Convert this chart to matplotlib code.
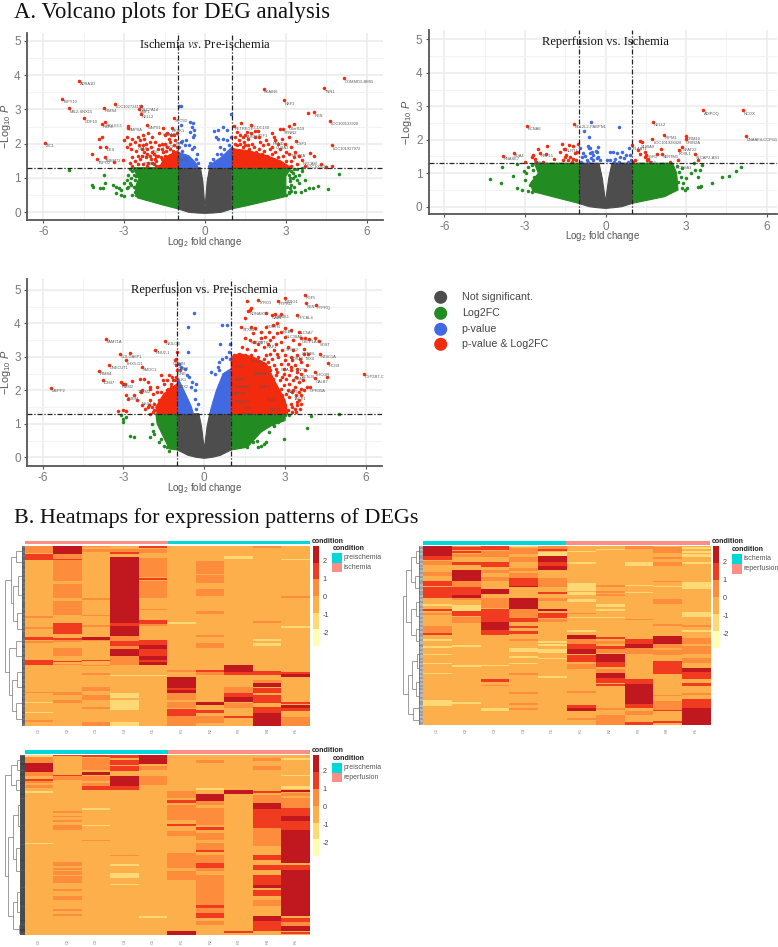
import numpy as np
import matplotlib
matplotlib.use("Agg")
import matplotlib.pyplot as plt
from matplotlib.colors import ListedColormap, BoundaryNorm

W, H = 778, 947
SANS = "Liberation Sans"
SERIF = "Liberation Serif"
plt.rcParams["font.family"] = SANS
plt.rcParams["mathtext.fontset"] = "custom"
plt.rcParams["mathtext.rm"] = "Liberation Sans"
plt.rcParams["mathtext.it"] = "Liberation Sans:italic"
plt.rcParams["mathtext.default"] = "regular"
plt.rcParams["axes.unicode_minus"] = False

GREY, GREEN, BLUE, RED = "#4d4d4d", "#228B22", "#4169E1", "#F22A0E"
TEAL, SALMON = "#00D7DB", "#FB8F88"

# ---------------- volcano 1: Ischemia vs Pre-ischemia ----------------
v1_grey_x = [-1, -.6, -.3, 0, .3, .6, 1, 1, .17, .08, .03, 0, -.03, -.08, -.17, -1]
v1_grey_y = [.1, .0, -.02, -.03, -.02, .0, .1, 1.3, 1.3, .9, .4, .15, .4, .9, 1.3, 1.3]
v1_green_l_x = [-1, -1.6, -2.5, -2.6, -2.45, -2.7, -1]
v1_green_l_y = [.1, .22, .42, .7, 1.0, 1.3, 1.3]
v1_green_r_x = [1, 1.6, 3.0, 3.0, 3.0, 3.2, 1]
v1_green_r_y = [.1, .2, .46, .8, 1.05, 1.3, 1.3]
v1_green_x = [-5.05,-3.76,-4.2,-4.15,-3.9,-3.8,-3.7,-3.4,-3.3,-3.2,-3.1,-3.3,-3.1,-3.0,-2.9,-2.85,-2.8,-3.0,-2.9,-2.7,-2.75,-2.7,
              -2.55,-2.6,-2.65,-2.5,-2.6,-2.55,-2.65,-2.5,-2.75,-2.8,-2.85,-2.45,
              4.97,4.55,4.2,4.0,3.85,3.7,3.55,3.6,3.5,3.4,3.3,3.2,3.5,3.7,3.4,3.25,3.1,3.15,3.35,3.6,
              3.0,3.1,3.15,3.05,3.2,3.15,3.25,3.2,3.3,3.1,3.35]
v1_green_y = [1.22,1.09,.8,.75,.72,.7,.85,.8,.75,.7,.65,.55,.5,.48,.95,1.1,1.25,.85,.7,.5,.8,1.2,
              .5,.6,.75,.85,.95,1.05,1.1,1.2,1.0,.85,.75,.55,
              1.12,.68,.78,.72,.72,.65,.6,1.2,1.1,.95,.75,.62,.85,.95,1.25,1.15,.55,.9,.6,1.28,
              .5,.6,.7,.75,.8,1.0,1.0,1.2,1.25,1.1,1.05]
v1_blue_l_x = [-1, -.25, -.35, -.6, -1]
v1_blue_l_y = [1.3, 1.3, 1.45, 1.65, 1.75]
v1_blue_r_x = [.15, 1, 1, .6, .3]
v1_blue_r_y = [1.3, 1.3, 1.9, 1.6, 1.45]
v1_blue_x = [-.95,-.88,-.9,-.55,-.45,-.5,-.42,-.55,-.4,-.45,-.9,-.85,-.7,-.75,-.6,-.5,-.4,-.95,-.85,-.3,-.35,-.25,
             .97,.65,.5,.35,.8,.4,.5,.65,.8,.95,.55,.7,.9,.85,.45,.3,.2,.15,.95,.6]
v1_blue_y = [3.1,3.09,2.55,2.62,2.6,2.5,2.4,2.35,2.25,2.2,2.05,2.07,2.1,1.95,1.95,1.85,1.9,1.9,1.8,1.7,1.55,1.45,
             2.87,2.5,2.4,2.38,2.4,2.2,2.15,2.15,2.1,2.2,1.9,1.85,1.95,1.75,1.7,1.55,1.45,1.35,1.6,1.7]
v1_red_l_x = [-1, -1.7, -1.5, -1]
v1_red_l_y = [1.3, 1.3, 1.6, 1.8]
v1_red_core_x = [1, 3.2, 2.8, 2.3, 1.6, 1]
v1_red_core_y = [1.3, 1.3, 1.5, 1.65, 1.8, 1.85]
v1_red_x = [-5.93,-4.66,-5.29,-5.05,-4.5,-3.76,-3.34,-2.37,-2.44,-2.36,-3.71,-3.83,-1.15,-2.86,-2.84,-2.14,-1.57,-1.24,-3.82,-3.92,-3.67,-3.9,-4.18,-4.0,-3.72,-3.36,-3.04,
            -3.0,-2.9,-2.8,-2.7,-2.6,-2.5,-2.45,-2.4,-2.35,-2.3,-2.25,-2.2,-2.15,-2.1,-2.05,-2.0,-1.95,-1.9,-1.85,-1.8,-1.75,-1.7,-1.65,-1.6,-1.55,-1.5,-1.45,-1.4,-1.35,-1.3,-1.25,-1.2,-1.15,-1.1,-1.05,
            -2.8,-2.6,-2.4,-2.3,-2.2,-2.1,-1.9,-1.7,-1.55,-1.4,-1.2,-1.1,-1.6,-1.5,-1.35,-1.2,-1.1,-1.8,-2.0,-1.05,-1.15,-1.3,-1.45,-1.6,
            -2.9,-2.75,-2.55,-2.5,-2.7,-2.35,-2.15,-2.3,-1.95,-1.85,-1.75,-2.05,-2.25,-1.7,-1.5,-1.35,-1.25,-1.4,-1.15,-1.05,-2.5,-2.7,-2.15,-1.95,-1.8,
            5.16,4.42,2.18,2.92,4.06,3.83,4.64,4.71,3.38,
            1.08,1.35,1.7,1.4,1.5,1.7,1.85,1.95,1.1,1.2,1.25,1.3,1.45,1.6,1.75,1.85,2.05,2.15,2.25,2.5,2.55,2.6,2.8,2.9,3.1,3.3,2.7,2.85,2.95,3.1,3.2,3.35,3.5,3.6,3.9,4.05,4.3,4.5,4.7,3.3,3.1,3.0,2.8,2.6,2.4,2.2,2.0,1.8,1.6,1.4,1.2,1.1,3.4,3.2,2.9,3.7,
            1.05,1.25,1.5,1.65,1.9,2.1,2.3,2.5,2.7,2.9,3.0,2.8,2.6,3.2,2.35,2.5,2.0,1.55,1.3]
v1_red_y = [2.03,3.84,3.31,3.03,2.74,3.05,3.17,3.09,3.01,2.88,2.62,2.58,2.75,2.51,2.47,2.55,2.45,2.47,2.2,2.14,1.91,1.89,1.71,1.54,1.6,1.46,1.52,
            2.1,2.2,2.0,2.15,2.05,2.2,1.95,2.1,1.85,2.25,1.75,2.0,1.85,2.3,1.65,1.9,2.2,1.7,2.05,1.5,1.85,2.3,1.6,2.0,1.75,2.25,1.5,1.9,1.65,2.05,1.45,1.8,1.55,2.1,1.7,
            1.45,1.5,1.55,1.4,1.6,1.45,1.4,1.35,1.4,1.35,1.35,1.4,1.55,1.65,1.5,1.6,1.5,1.65,1.55,1.9,1.95,1.85,1.8,1.85,
            1.9,1.85,1.8,1.65,1.6,1.65,1.7,1.95,1.75,1.55,1.65,2.05,2.15,1.95,2.0,2.15,2.25,2.3,2.25,2.3,1.4,1.35,1.35,1.45,1.35,
            3.91,3.62,3.6,3.26,2.92,2.89,2.67,1.95,2.09,
            2.53,2.6,2.55,2.2,2.25,2.3,2.37,2.37,2.2,2.35,2.1,2.0,2.05,2.15,2.0,2.2,2.05,1.95,2.1,2.3,2.2,2.1,2.42,2.43,2.52,2.58,2.0,2.15,2.0,2.2,1.9,1.75,1.65,1.52,1.72,1.65,1.42,1.32,1.35,1.6,1.7,1.5,1.85,1.75,1.85,1.8,1.85,1.9,1.95,1.9,1.95,2.0,1.4,1.35,1.35,1.35,
            1.85,1.8,1.95,1.85,1.75,1.7,1.65,1.7,1.6,1.65,1.75,1.45,1.4,1.5,2.0,1.9,2.2,2.35,2.25]
v1_lab_x = [-5.93,-4.66,-5.29,-5.05,-4.5,-3.76,-3.34,-2.37,-2.44,-2.36,-3.71,-3.83,-1.15,-2.86,-2.14,-1.57,-1.24,-3.67,-3.98,-3.72,5.16,4.42,2.18,2.92,4.06,4.64,4.71,3.38,1.08,1.72,1.45,1.95,2.5,3.1,2.9,2.6,3.2,3.6,3.75,-2.5,-1.1,-2.4,-2.3,-1.6,-2.0,-1.1]
v1_lab_y = [2.03,3.84,3.31,3.03,2.74,3.05,3.17,3.09,3.01,2.88,2.62,2.58,2.75,2.51,2.55,2.35,2.47,1.91,1.54,1.6,3.91,3.62,3.6,3.26,2.92,2.67,1.95,2.09,2.53,2.55,2.3,2.33,2.1,2.52,2.42,1.98,1.75,1.52,1.42,1.95,2.1,1.7,1.5,2.0,1.85,1.62]
v1_lab_t = ["ZIC1","ADRA1D","TSPY10","MIL2-SNX15","GDF10","RIMS4","LOC102724159","SLC7A14","MIIP1","NELL2","SIGLEC5","RBP4","SPC5D","BMP8A","WNT01","GRAMP1","BRSK1","DES","TSPO2","TMEM72",
            "COMMD3-BMI1","TNN1","SKAIN6","NXF3","REN","LOC100133920","LOC101927972","CSF3","RETREG1","CCDC150","CARD10","TGF1","PRND","C8orf119","SYNN2","GLRA3","MYO7A","NRCAM","LOC100526","CFAP","KIF1","GPR","FOXJ1","PITX3","TSC","VAMP1"]

# ---------------- volcano 2: Reperfusion vs Ischemia ----------------
v2_grey_x = [-1, -.6, -.3, 0, .3, .6, 1, 1, .24, .12, .05, .01, -.05, -.12, -.24, -1]
v2_grey_y = [.1, .0, -.03, -.05, -.03, .0, .1, 1.3, 1.3, .85, .45, .12, .45, .85, 1.3, 1.3]
v2_green_l_x = [-1, -2.7, -2.8, -2.5, -2.65, -1]
v2_green_l_y = [.1, .45, .7, 1.0, 1.3, 1.3]
v2_green_r_x = [1, 2.2, 2.7, 2.65, 2.5, 1]
v2_green_r_y = [.1, .3, .5, 1.0, 1.3, 1.3]
v2_green_x = [-4.3,-3.9,-3.3,-3.1,-3.85,-3.45,-3.3,-3.05,-2.95,-3.0,-2.9,-2.75,-2.8,-2.7,-2.65,-2.9,-2.75,
              5.05,4.85,4.6,4.35,3.95,3.55,3.5,3.45,3.45,3.5,3.35,3.2,3.0,3.05,2.95,3.6,3.3,2.9,2.85,2.8,2.75,2.7,2.85,2.65]
v2_green_y = [.82,.72,.55,.5,1.18,.93,1.28,1.08,1.0,.8,.46,.45,.65,1.1,.9,1.2,1.25,
              1.2,1.08,.92,.9,.72,.62,.6,.58,.88,1.1,1.1,1.0,.85,.55,.5,1.25,1.3,.7,1.15,.9,1.05,.75,.55,1.22]
v2_blue_x = [-.53,.5,-.81,-.62,-.96,-.65,-.58,-.52,-.27,-.31,-.27,-.58,-.89,-.7,-.46,-.21,.16,.29,.41,.6,.86,.35,.53,.9,.16,.04,-.9,-.75,-.6,-.45,-.3,.3,.5,.7,.85,-.85,-.65,-.55,-.35,.95,.75]
v2_blue_y = [2.54,2.39,2.27,2.07,1.74,1.81,1.74,1.64,1.79,1.64,1.49,1.59,1.49,1.39,1.39,1.39,1.64,1.64,1.59,1.64,1.74,1.44,1.49,1.54,1.41,1.39,1.35,1.5,1.75,1.55,1.45,1.35,1.35,1.45,1.35,1.6,1.35,1.45,1.65,1.4,1.55]
v2_red_x = [-2.93,-1.17,1.77,3.64,5.12,5.22,2.16,2.99,2.98,1.72,1.28,1.35,2.05,2.84,2.72,1.0,3.35,3.45,2.69,2.4,1.22,1.28,1.48,1.52,1.9,2.11,1.46,1.6,1.53,1.65,1.09,1.03,
            -3.82,-3.42,-3.0,-2.75,-2.69,-2.5,-2.44,-2.63,-2.22,-2.16,-1.91,-1.63,-1.55,-1.49,-1.36,-1.2,-1.04,-1.46,-1.33,-1.51,-1.39,-1.2,-1.08,-1.14,-1.26,-1.05,-2.57,-2.32,-1.7,-1.57]
v2_red_y = [2.42,2.48,2.54,2.88,2.88,2.1,2.15,2.11,2.01,2.02,1.97,1.94,1.73,1.78,1.68,1.83,1.56,1.41,1.41,1.33,1.69,1.57,1.64,1.54,1.57,1.57,1.49,1.44,1.39,1.34,1.39,1.34,
            1.51,1.61,1.34,1.49,1.54,1.71,1.61,1.44,1.56,1.8,1.43,1.88,1.73,1.73,1.84,1.81,1.86,1.54,1.49,1.47,1.41,1.44,1.39,1.6,1.34,1.64,1.34,1.34,1.64,1.39]
v2_lab_x = [-2.93,-1.17,1.77,3.64,5.12,5.22,2.16,2.99,2.98,1.77,1.28,1.0,2.84,2.72,3.35,-3.82,-3.42,-2.69,-2.44,-1.5,2.1,2.6,1.5,1.5]
v2_lab_y = [2.42,2.48,2.54,2.88,2.88,2.1,2.15,2.11,2.0,2.0,1.88,1.83,1.78,1.68,1.56,1.51,1.61,1.4,1.61,1.75,1.58,1.25,1.4,1.58]
v2_lab_t = ["KCNA6","BCL2L2-PABPN1","NELL2","ADIPOQ","NCOX","DNAAF4-CCPG1","TRPM1","GRM10","GRIN2A","LOC101928428","S100A9","PLAAT1","NFAT22","FOXL1","SLCAP2-AS1","RNASE7","SOA4","MAFB","RRP15","NLRT1","SERTM1","PCDHA1","CST1","RGR1"]

# ---------------- volcano 3: Reperfusion vs Pre-ischemia ----------------
v3_grey_x = [-1, -.6, -.3, 0, .3, .6, 1, 1, .2, .1, .04, 0, -.04, -.1, -.2, -1]
v3_grey_y = [.22, .06, 0, -.03, 0, .06, .22, 1.3, 1.3, .9, .5, .25, .5, .9, 1.3, 1.3]
v3_green_l_x = [-1, -1.3, -1.6, -1.75, -1.8, -1]
v3_green_l_y = [.22, .25, .75, 1.0, 1.3, 1.3]
v3_green_r_x = [1, 1.6, 2.1, 2.5, 3.0, 3.0, 1]
v3_green_r_y = [.22, .3, .75, .95, 1.1, 1.3, 1.3]
v3_green_x = [-3.0,-3.0,-2.9,-3.1,-2.77,-2.6,-2.0,-1.9,-1.85,-1.7,-1.6,-1.5,-1.4,-1.3,-1.95,
              5.0,3.97,3.83,2.95,2.3,2.2,2.1,2.0,1.8,2.4,2.6,2.75,2.9,3.0,2.5,1.6,3.15,1.95]
v3_green_y = [1.05,1.15,1.2,1.27,.65,.6,.6,.8,.7,.45,.55,.35,.3,.2,1.0,
              1.28,1.22,.87,.55,.45,.4,.35,.3,.45,.75,.95,1.05,1.15,1.25,1.0,.3,1.25,.5]
v3_blue_l_x = [-1, -.4, -.5, -.7, -1]
v3_blue_l_y = [1.3, 1.3, 1.55, 1.9, 2.4]
v3_blue_r_x = [.2, 1, 1, .7, .45, .3]
v3_blue_r_y = [1.3, 1.3, 2.65, 2.5, 2.0, 1.6]
v3_blue_x = [-.4,-.6,.65,.85,.6,.95,-.6,.9,.8,.65,.55,.95,.5,.25,.4,.55,-.85,-.7,-.95,-.9,-.65,-.55,-.45,-.3,-.35,-.5,-.25,-.3,-.35]
v3_blue_y = [4.3,3.9,3.95,3.95,3.4,3.4,3.15,3.15,3.0,2.95,2.85,2.95,2.7,2.55,2.5,2.6,2.7,2.65,2.8,2.6,2.45,2.4,2.25,2.2,2.0,2.1,1.6,1.45,1.75]
v3_red_l_x = [-1, -1.75, -1.8, -1.5, -1]
v3_red_l_y = [1.3, 1.3, 1.5, 1.9, 2.2]
v3_red_r_x = [1, 3.1, 3.0, 2.6, 2.3, 1.8, 1.3, 1]
v3_red_r_y = [1.3, 1.3, 1.7, 2.3, 2.8, 3.0, 3.1, 3.0]
v3_red_x = [-5.68,-3.64,-1.45,-1.82,-3.13,-2.76,-2.91,-3.55,-3.91,-3.77,-2.31,-3.1,-3.0,-2.95,-2.7,-2.4,-2.25,-2.1,-2.0,-1.6,-1.55,-1.3,-1.1,-1.05,-1.0,-1.05,-1.2,-1.0,-1.1,-2.9,-2.85,-2.5,-2.35,-2.6,-2.3,-2.0,-1.9,-1.75,-3.2,-3.0,-2.9,-2.2,-2.05,-1.95,-1.85,-1.65,-1.35,-1.25,-1.1,-1.05,-1.4,-2.0,
            -2.0,-1.9,-2.1,-2.3,-1.85,-1.7,-1.6,-1.4,-1.25,-1.15,-1.05,-1.5,-1.75,
            5.92,3.73,3.76,4.16,2.98,2.75,2.0,1.57,1.62,1.68,1.75,2.3,2.5,2.62,2.86,3.44,1.52,
            1.37,1.75,1.9,2.3,2.55,2.7,2.85,3.0,3.2,3.5,3.6,3.75,3.9,4.1,4.25,4.31,4.59,4.1,4.55,4.12,
            1.5,1.7,1.85,2.1,2.25,2.45,2.65,2.85,3.1,3.3,3.5,3.7,1.4,1.6,1.9,2.2,2.6,2.9,
            1.1,1.3,1.55,1.75,2.0,2.3,2.5,2.75,3.0,3.2,3.45,3.7,3.85,1.15,1.45,2.1,2.35,2.6,2.85,3.1,3.35,3.6,3.8,
            2.2,2.45,2.7,2.95,3.2,3.45,3.6,3.75,2.3,2.55,2.8,3.05,3.3,3.5,3.65,
            2.6,2.85,3.1,3.35,3.6,3.8,3.91,2.9,3.15,3.4,3.6,3.45,3.2,3.0,3.35,3.1,3.25,3.5,
            2.75,2.95,3.15,3.3,3.05,3.25,3.5,3.4,3.15,2.9,2.65,2.4,2.65,2.95,3.2,3.45,1.5,1.25,1.95,2.2,2.45,2.7,3.0,3.25,3.55,2.35,2.55,2.0,1.8,2.1,2.4,2.7,3.0,3.3,3.45,3.6,3.25,3.0,3.4,3.55,3.7,2.85]
v3_red_y = [2.07,3.53,3.47,3.22,3.09,3.11,2.9,2.77,2.59,2.31,2.71,2.26,2.2,2.18,2.28,2.35,2.35,2.25,2.1,2.45,2.3,2.45,2.9,2.75,2.6,2.95,2.4,3.15,2.3,1.85,1.75,1.7,1.95,1.85,2.0,2.05,1.9,2.1,1.38,1.4,1.38,1.45,1.55,1.5,1.42,1.55,2.05,2.2,2.05,1.85,2.3,1.3,
            1.7,1.35,1.5,1.55,1.6,1.7,1.95,2.0,2.1,2.3,2.4,2.2,1.95,
            2.5,4.85,4.6,4.55,4.75,4.68,4.7,4.68,4.38,4.4,4.45,4.32,4.25,4.27,4.28,4.25,4.15,
            3.9,3.9,3.85,3.9,3.95,4.0,3.75,3.85,3.8,3.73,3.55,3.55,3.52,3.55,3.46,3.1,2.83,2.56,2.39,2.36,
            3.55,3.5,3.45,3.55,3.6,3.5,3.4,3.45,3.3,3.2,3.4,3.25,3.3,3.25,3.2,3.3,3.2,3.2,
            3.05,3.1,3.0,3.05,3.0,3.05,2.95,3.0,3.05,3.0,3.05,3.08,3.1,2.85,2.8,2.8,2.85,2.75,2.8,2.8,2.75,2.85,2.75,
            2.5,2.6,2.55,2.5,2.6,2.55,2.5,2.6,2.3,2.35,2.3,2.35,2.3,2.25,2.3,
            2.1,2.05,2.0,2.1,2.05,2.1,2.09,1.85,1.8,1.85,1.85,1.65,1.6,1.55,1.45,1.4,1.35,1.7,
            1.95,2.15,2.2,2.0,1.9,1.95,1.95,2.4,2.45,2.4,2.45,2.7,2.65,2.65,2.7,2.65,3.05,2.95,2.9,2.95,3.1,3.1,2.9,2.9,2.95,3.4,3.6,3.4,3.7,3.75,3.75,3.7,3.6,3.5,1.55,1.6,1.5,1.4,1.35,1.45,2.0,1.7]
v3_lab_x = [-5.68,-3.64,-1.45,-1.82,-3.13,-2.91,-3.55,-2.31,-3.91,-3.77,-3.1,-2.9,-2.5,-2.35,-1.2,-1.0,-1.0,-1.05,-1.0,5.92,3.73,3.76,4.16,2.98,2.75,2.0,1.65,2.5,2.3,2.62,3.44,1.4,2.9,3.0,3.5,3.6,4.25,4.31,4.59,4.1,4.12,3.91,3.6,3.45,3.6,2.0,1.7,2.3,3.0,3.2,3.7,1.1,1.1,1.1,1.1,1.1,1.4,1.4,1.7,1.8,2.0,2.3,2.4,2.8,3.3,3.1,3.3]
v3_lab_y = [2.07,3.53,3.47,3.22,3.09,2.9,2.77,2.71,2.59,2.31,2.2,1.85,2.05,1.7,2.9,2.75,2.6,2.4,2.2,2.5,4.85,4.6,4.55,4.75,4.68,4.7,4.38,4.25,4.0,4.3,4.25,3.9,3.85,3.7,3.8,3.55,3.46,3.1,2.83,2.56,2.36,2.09,3.2,2.7,2.5,3.5,3.5,3.4,3.3,3.05,3.05,2.8,2.4,2.2,2.0,1.75,1.55,1.4,2.95,2.6,2.2,1.8,1.5,2.7,2.45,2.05,1.85]
v3_lab_t = ["MEPP2","FAM71A","NKILOS","RNU2-1","GOLGA6P1","LHX5-D1","DNECUT1","SMOC1","RIMS4","TCIM7","RMM2","TMEM","TAKM2","NKX4-2","COBIN","GABR","GNE","DLK1","BMX2",
            "CYP2B7-C","FGF5","REN","PTPRQ","NTNG1","PTPRD","TYRO3","NDNAH5","GAD1","POSTN","CAMK1","HPCAL4","STXN1B","HEBB","SLC38A6","SLC5A7","OSTF1A7","SOST","NTSC1A","HCG9","LHCGR","CALB7","GPR35A","CPNE6","NPY","KCNJ4","SYT6","KCTD8","NAF1","SYNE2","ADRA2","TBX4","PLK3","MMP7","GRAMD","ATP2B","TMEM51","TYR","PDK4","EPHA3","CNKSR","NRIP3","SLC4","RELN","GDA","ICAM5","ADH6","TACR1"]

# ---------------- heatmaps ----------------
D, R, O, P = 2.5, 1.5, .5, -1.5   # heat levels
BASE = -.5
LEVELS = [-2.78, -1.85, -.92, .02, .95, 1.89, 2.84]
HEAT_COLORS = ["#FFFFB2", "#FED976", "#FDAF4B", "#FD8D3C", "#F03B20", "#C1181F"]
cbar_ticks = [2, 1, 0, -1, -2]

h1_span = (137, 678)
h1_bands = [
 [(137,160,O),(165,172,R),(172,182,R),(350,354,O),(383,387,O),(412,420,R),(425,430,O),(480,495,R),(575,578,O),(605,609,P),(635,640,P),(660,665,O)],
 [(137,165,D),(165,180,O),(178,182,R),(182,245,O),(255,295,O),(305,345,O),(370,382,R),(382,402,R),(415,420,R),(420,427,O),(445,470,O),(483,487,R),(492,497,O),(575,585,O),(600,610,O)],
 [(137,143,O),(150,158,O),(295,302,O),(345,350,O),(375,383,O),(411,420,D),(420,425,O),(480,485,R),(495,500,O),(520,525,O),(560,572,O),(585,600,O),(620,628,O),(665,678,O)],
 [(150,158,O),(157,165,R),(172,178,D),(178,370,D),(370,380,R),(380,410,D),(410,425,O),(425,440,R),(440,448,O),(448,468,D),(468,482,O),(482,497,O),(525,530,P),(580,595,P),(600,630,P),(665,678,P)],
 [(140,146,R),(150,160,O),(175,232,O),(236,243,R),(245,295,O),(327,332,O),(362,373,R),(373,380,O),(420,437,R),(437,447,D),(447,470,R),(470,482,D),(482,487,R),(487,497,D),(525,530,P)],
 [(367,372,P),(510,516,O),(533,565,D),(565,570,R),(570,578,D),(578,600,O),(607,625,O),(627,635,R),(635,648,R),(648,665,O),(665,678,O)],
 [(185,205,O),(205,225,O),(228,250,O),(270,290,O),(335,342,O),(405,412,O),(430,445,O),(510,516,R),(516,525,O),(605,615,D),(630,640,R),(648,670,O)],
 [(170,180,P),(497,518,D),(518,525,R),(560,580,O),(580,590,R),(590,605,D),(610,625,O),(648,655,R)],
 [(140,145,O),(365,370,O),(418,424,P),(430,440,P),(515,527,R),(540,548,O),(550,560,D),(565,580,R),(585,610,R),(620,640,R),(640,678,D)],
 [(178,182,P),(290,294,O),(378,384,P),(518,524,R),(524,532,D),(605,612,R),(615,625,D),(625,632,R),(650,678,O)],
]
h2_span = (48, 586)
h2_bands = [
 [(48,62,D),(62,80,D),(80,92,R),(95,108,O),(130,140,O),(155,170,R),(175,190,R),(190,205,R),(225,230,P),(238,245,R),(250,258,O),(290,300,O),(300,310,O),(311,318,R),(330,334,P),(350,355,P),(375,378,P),(400,403,P),(432,435,P),(510,518,P),(518,530,P)],
 [(48,55,O),(55,62,R),(65,72,R),(75,85,O),(100,108,R),(122,155,D),(155,175,O),(175,198,R),(198,205,D),(205,212,O),(228,245,P),(245,260,R),(262,282,O),(347,352,P),(408,412,P),(518,523,P)],
 [(48,62,R),(65,85,O),(100,115,R),(122,132,O),(145,155,O),(180,195,D),(205,235,O),(240,278,R),(278,303,D),(303,318,R),(408,411,P),(450,456,R),(465,470,O),(536,543,P)],
 [(48,55,P),(58,75,O),(85,100,O),(118,125,O),(132,147,O),(148,170,R),(170,175,D),(207,238,D),(240,265,O),(265,278,R),(290,295,R),(305,315,R),(330,335,O),(355,368,P),(380,385,P),(400,405,P),(432,436,O),(486,492,O),(520,525,O),(534,542,O)],
 [(48,60,O),(60,66,R),(70,80,P),(82,100,D),(100,112,R),(112,122,D),(148,175,O),(188,195,R),(205,215,O),(240,246,D),(250,267,R),(270,278,O),(335,340,P),(345,350,P),(360,370,P),(385,390,P),(440,446,P)],
 [(65,70,P),(100,104,P),(163,172,P),(172,185,P),(188,198,P),(208,218,P),(250,255,O),(262,267,P),(303,308,P),(318,328,D),(328,345,O),(345,358,R),(358,375,D),(378,398,R),(405,418,O),(485,490,O),(527,535,R),(535,545,D),(565,570,O)],
 [(45,50,P),(60,64,P),(168,175,O),(185,190,O),(195,200,O),(225,232,P),(240,245,P),(262,267,P),(322,330,R),(335,345,O),(350,358,R),(358,372,O),(375,397,D),(397,413,R),(418,430,O),(430,445,D),(445,460,R),(462,470,R),(534,540,O),(555,572,O),(572,586,O)],
 [(48,60,O),(100,112,P),(168,172,P),(188,192,P),(268,273,O),(330,343,R),(343,357,D),(357,375,O),(450,462,R),(462,522,D),(522,534,R),(545,555,O),(578,586,R)],
 [(55,72,O),(85,90,O),(100,110,O),(155,160,O),(170,175,P),(208,225,O),(285,290,O),(320,345,D),(345,355,O),(362,378,O),(395,435,R),(495,500,O),(515,540,O),(540,545,R),(575,580,R)],
 [(55,60,P),(65,72,P),(75,85,P),(100,105,P),(158,180,P),(248,262,P),(288,293,O),(303,308,P),(325,345,O),(350,375,O),(385,400,O),(415,428,D),(428,450,R),(460,468,R),(490,495,O),(507,515,R),(515,535,R),(535,548,D),(548,586,D)],
]
h3_span = (46, 586)
h3_bands = [
 [(46,52,P),(52,70,O),(70,98,D),(98,110,O),(118,125,R),(125,130,O),(137,145,O),(155,160,P),(310,314,P)],
 [(46,50,R),(105,110,R),(110,120,O),(215,220,O),(228,232,O),(240,248,O),(255,272,O),(367,378,O),(385,390,O),(395,405,O),(410,430,O),(447,455,O),(470,480,O),(508,515,O),(522,528,O)],
 [(46,52,R),(55,90,O),(97,105,D),(108,125,O),(130,138,O),(138,152,R),(205,212,P),(255,260,P),(300,304,O)],
 [(46,55,R),(60,75,R),(80,95,R),(108,138,D),(138,150,R),(345,349,O),(372,378,P),(400,415,P),(432,436,P)],
 [(46,72,D),(80,90,O),(108,135,O),(530,535,P)],
 [(155,175,O),(180,190,R),(195,225,O),(225,240,O),(252,258,R),(275,290,O),(340,385,O),(395,420,O),(575,586,D)],
 [(62,70,O),(145,150,P),(163,185,D),(185,195,O),(205,255,O),(262,272,R),(280,300,O),(310,330,O),(330,338,R),(345,370,O),(370,385,R),(385,395,O),(405,495,O),(495,505,R),(505,520,O),(520,535,R),(545,555,O)],
 [(150,162,D),(575,580,R)],
 [(55,65,O),(80,90,O),(155,160,R),(165,190,O),(190,207,D),(207,265,R),(265,320,O),(345,360,R),(375,392,R),(405,435,R),(435,445,D),(450,470,R),(480,500,O),(530,545,D),(545,575,R)],
 [(55,62,P),(105,110,P),(140,148,P),(150,158,D),(160,170,O),(175,205,O),(205,228,R),(228,245,D),(245,272,R),(272,345,D),(345,370,D),(375,390,R),(390,530,D),(535,548,R),(548,558,O),(558,575,D),(578,583,R)],
]
h1_tree = [.05,
           [.32, [.58, (0, .06), (.06, .12)], [.42, [.68, (.12, .22), (.22, .33)], [.6, (.33, .42), (.42, .5)]]],
           [.22, [.55, (.5, .56), (.56, .66)], [.4, [.62, (.66, .74), (.74, .83)], [.55, (.83, .92), (.92, 1)]]]]
h2_tree = [.05,
           [.2, [.45, [.7, (0, .06), (.06, .13)], [.62, (.13, .2), (.2, .27)]], [.42, [.68, (.27, .35), (.35, .43)], [.66, (.43, .5), (.5, .56)]]],
           [.3, [.5, [.72, (.56, .64), (.64, .72)], [.66, (.72, .8), (.8, .87)]], [.55, (.87, .94), (.94, 1)]]]
h3_tree = [.05,
           [.35, [.62, (0, .05), (.05, .11)], [.55, (.11, .16), (.16, .22)]],
           [.2, [.42, [.66, (.22, .33), (.33, .45)], [.58, (.45, .58), (.58, .7)]], [.45, [.64, (.7, .82), (.82, .92)], [.7, (.92, .97), (.97, 1)]]]]
heat_cols = ["C1", "C2", "C3", "C4", "C5", "R1", "R2", "R3", "R4", "R5"]


def px_axes(fig, left, top, right, bottom, **kw):
    return fig.add_axes([left / W, 1 - bottom / H, (right - left) / W, (bottom - top) / H], **kw)


def volcano(fig, box, xmap, ymap, title, title_y, label_off, grey, greens, blues, reds, gp, bp, rp, labs):
    left, top, right, bottom = box
    x0, xs = xmap
    y0, ys = ymap
    ax = px_axes(fig, left, top, right, bottom)
    ax.set_xlim((left - x0) / xs, (right - x0) / xs)
    ax.set_ylim((y0 - bottom) / ys, (y0 - top) / ys)
    ax.set_xticks([-6, -3, 0, 3, 6])
    ax.set_xticks([-4.5, -1.5, 1.5, 4.5], minor=True)
    ax.set_yticks([0, 1, 2, 3, 4, 5])
    ax.set_yticks([.5, 1.5, 2.5, 3.5, 4.5], minor=True)
    ax.grid(which="major", color="#EBEBEB", lw=1.1, zorder=0)
    ax.grid(which="minor", color="#F3F3F3", lw=.7, zorder=0)
    ax.set_axisbelow(True)
    for s in ("top", "right"):
        ax.spines[s].set_visible(False)
    for s in ("left", "bottom"):
        ax.spines[s].set_color("#555555")
        ax.spines[s].set_linewidth(1.3)
    ax.tick_params(which="major", labelsize=8.5, labelcolor="#7A7A7A", color="#555555", length=2.5, width=.8, pad=2)
    ax.tick_params(which="minor", length=0)
    ax.set_xlabel(r"Log$_2$ fold change", fontsize=7.0, color="#555555", va="center")
    ax.set_ylabel(r"$-$Log$_{10}$ $\mathit{P}$", fontsize=7.8, color="#555555", va="center")
    ax.xaxis.set_label_coords(.5, -22 / (bottom - top))
    ax.yaxis.set_label_coords(-label_off / (right - left), .5)

    ax.fill(*grey, color=GREY, lw=.8, zorder=2)
    for g in greens:
        ax.fill(*g, color=GREEN, lw=.8, zorder=2)
    for b in blues:
        ax.fill(*b, color=BLUE, lw=.8, zorder=2)
    for r in reds:
        ax.fill(*r, color=RED, lw=.8, zorder=2)
    ax.scatter(*gp, s=6.5, color=GREEN, lw=0, zorder=3)
    ax.scatter(*bp, s=6.5, color=BLUE, lw=0, zorder=3)
    ax.scatter(*rp, s=6.5, color=RED, lw=0, zorder=3)
    for x, y, t in zip(*labs):
        ax.text(x + .02, y - .04, t, fontsize=2.9, color="#5a5a5a", ha="left", va="top", zorder=5)
    for xv in (-1, 1):
        ax.axvline(xv, color="#222222", lw=.9, ls=(0, (4, 1.5, 1, 1.5)), zorder=4)
    ax.axhline(1.3, color="#222222", lw=.9, ls=(0, (4, 1.5, 1, 1.5)), zorder=4)
    ax.text(0, title_y, title, fontsize=9.0, family=SERIF, color="#111111", ha="center", va="center",
            math_fontfamily="stix", zorder=6)
    return ax


def draw_tree(ax, node, leaf_depth, step, lw):
    if isinstance(node, tuple):
        r0, r1 = node
        rows = np.arange(r0, r1, step)
        ax.hlines(rows, leaf_depth, 1, color="#222222", lw=lw)
        ax.vlines(leaf_depth, r0, r1, color="#555555", lw=.4)
        return (r0 + r1) / 2, leaf_depth
    depth = node[0]
    ys = []
    for ch in node[1:]:
        y, d = draw_tree(ax, ch, leaf_depth, step, lw)
        ax.hlines(y, depth, d, color="#666666", lw=.45)
        ys.append(y)
    ax.vlines(depth, min(ys), max(ys), color="#666666", lw=.45)
    return sum(ys) / len(ys), depth


def heatmap(fig, overlay, box, bar, dend_left, cb, legend, span, bands, first, second, legend_items, tree, leaf, step, lw, lab_y):
    left, top, right, bottom = box
    n = span[1] - span[0]
    mat = np.full((n, 10), BASE)
    for c, col in enumerate(bands):
        for a, b, v in col:
            mat[max(a - span[0], 0):max(b - span[0], 0), c] = v
    cmap = ListedColormap(HEAT_COLORS)
    norm = BoundaryNorm(LEVELS, 6)
    ax = px_axes(fig, left, top, right, bottom)
    ax.imshow(mat, cmap=cmap, norm=norm, aspect="auto", interpolation="nearest")
    ax.axis("off")
    # annotation bar
    a = px_axes(fig, left, bar[0], right, bar[1])
    a.set_xlim(0, 10); a.set_ylim(0, 1); a.axis("off")
    a.barh([.5], [5], left=[0], height=1, color=first)
    a.barh([.5], [5], left=[5], height=1, color=second)
    # dendrogram
    d = px_axes(fig, dend_left, top, left, bottom)
    d.set_xlim(0, 1); d.set_ylim(1, 0); d.axis("off")
    draw_tree(d, tree, leaf, step, lw)
    # colour bar
    cbx = px_axes(fig, cb[0], cb[1], cb[2], cb[3])
    vals = np.array([[-2.3], [-1.4], [-.45], [.5], [1.4], [2.4]])
    cbx.pcolormesh([0, 1], LEVELS, vals, cmap=cmap, norm=norm)
    cbx.set_xticks([])
    cbx.yaxis.tick_right()
    cbx.set_yticks(cbar_ticks)
    cbx.set_yticklabels([str(t) for t in cbar_ticks])
    cbx.tick_params(axis="y", length=0, labelsize=5.2, labelcolor="#444444", pad=2.5)
    for s in cbx.spines.values():
        s.set_visible(False)
    # legend & texts, pixel overlay
    overlay.text(cb[0] - 1, bar[0] + 0.3, "condition", fontsize=5.1, fontweight="bold", color="#222222", va="center")
    lx, ly = legend
    overlay.text(lx, ly - 4.5, "condition", fontsize=5.1, fontweight="bold", color="#222222", va="center")
    for i, (name, col) in enumerate(legend_items):
        overlay.fill_between([lx, lx + 9.5], ly + i * 9.8, ly + (i + 1) * 9.8, color=col, lw=0)
        overlay.text(lx + 11.5, ly + (i + .5) * 9.8, name, fontsize=5.0, color="#555555", va="center")
    for i, c in enumerate(heat_cols):
        overlay.text(left + (i + .5) * (right - left) / 10, lab_y, c, rotation=90, fontsize=2.8, color="#808080",
                     ha="center", va="center")


fig = plt.figure(figsize=(W / 100, H / 100), dpi=100, facecolor="white")
ov = fig.add_axes([0, 0, 1, 1], zorder=10)
ov.set_xlim(0, W); ov.set_ylim(H, 0); ov.axis("off"); ov.patch.set_alpha(0)

ov.text(14, 12, "A. Volcano plots for DEG analysis", family=SERIF, fontsize=16.4, color="#111111", va="center")
ov.text(14, 518, "B. Heatmaps for expression patterns of DEGs", family=SERIF, fontsize=15.9, color="#111111", va="center")

volcano(fig, (27, 33, 383, 220), (205, 26.95), (212.3, 34.3), r"Ischemia $\mathit{vs}$. Pre-ischemia", 4.88, 21,
        (v1_grey_x, v1_grey_y), [(v1_green_l_x, v1_green_l_y), (v1_green_r_x, v1_green_r_y)],
        [(v1_blue_l_x, v1_blue_l_y), (v1_blue_r_x, v1_blue_r_y)], [(v1_red_l_x, v1_red_l_y), (v1_red_core_x, v1_red_core_y)],
        (v1_green_x, v1_green_y), (v1_blue_x, v1_blue_y), (v1_red_x, v1_red_y), (v1_lab_x, v1_lab_y, v1_lab_t))
volcano(fig, (428.7, 30, 776.7, 214.3), (605.5, 26.86), (206.7, 33.47), "Reperfusion vs. Ischemia", 4.91, 21.7,
        (v2_grey_x, v2_grey_y), [(v2_green_l_x, v2_green_l_y), (v2_green_r_x, v2_green_r_y)],
        [], [],
        (v2_green_x, v2_green_y), (v2_blue_x, v2_blue_y), (v2_red_x, v2_red_y), (v2_lab_x, v2_lab_y, v2_lab_t))
volcano(fig, (27, 279.3, 382, 465.7), (204.3, 26.94), (457.3, 33.47), "Reperfusion vs. Pre-ischemia", 5.0, 21,
        (v3_grey_x, v3_grey_y), [(v3_green_l_x, v3_green_l_y), (v3_green_r_x, v3_green_r_y)],
        [(v3_blue_l_x, v3_blue_l_y), (v3_blue_r_x, v3_blue_r_y)], [(v3_red_l_x, v3_red_l_y), (v3_red_r_x, v3_red_r_y)],
        (v3_green_x, v3_green_y), (v3_blue_x, v3_blue_y), (v3_red_x, v3_red_y), (v3_lab_x, v3_lab_y, v3_lab_t))

# volcano legend
leg_names = ["Not significant.", "Log2FC", "p-value", "p-value & Log2FC"]
leg_cols = [GREY, "#228B22", BLUE, RED]
leg_y = [297.3, 313.3, 329.3, 344.3]
ov.scatter([440.7] * 4, leg_y, s=88, c=leg_cols, lw=0)
for t, y in zip(leg_names, leg_y):
    ov.text(461.7, y, t, fontsize=7.7, color="#444444", va="center")

heatmap(fig, ov, (25, 545.7, 310, 726), (540.7, 544.3), 4, (312.7, 545.7, 319.3, 646), (332.5, 552.7), h1_span, h1_bands,
        SALMON, TEAL, [("preischemia", TEAL), ("ischemia", SALMON)], h1_tree, .84, .002, .25, 730)
heatmap(fig, ov, (422.7, 546, 710, 725.3), (540.7, 544.7), 402, (712.7, 546, 719.3, 647.7), (732.2, 554), h2_span, h2_bands,
        TEAL, SALMON, [("ischemia", TEAL), ("reperfusion", SALMON)], h2_tree, .84, .0045, .25, 730)
heatmap(fig, ov, (25, 755.3, 310, 935.3), (750, 754), 4, (312.7, 755.3, 319.3, 856), (332.5, 762.7), h3_span, h3_bands,
        TEAL, SALMON, [("preischemia", TEAL), ("reperfusion", SALMON)], h3_tree, .76, .0016, .3, 941)

fig.savefig("out.png", dpi=100, facecolor="white")
